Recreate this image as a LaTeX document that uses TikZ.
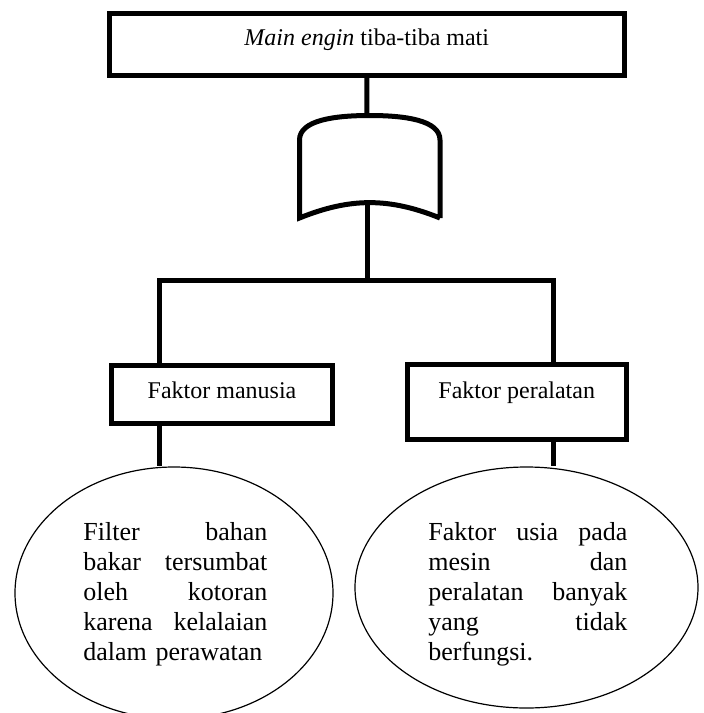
\documentclass[tikz,border=0pt]{standalone}
\usepackage{fontspec}
\setmainfont{Liberation Serif}
\usetikzlibrary{shapes.geometric}

\begin{document}
\begin{tikzpicture}[x=0.5pt, y=-0.5pt,
        kotak/.style={draw, line width=2.5pt, inner sep=0pt, font=\fontsize{12}{15}\selectfont},
        garis/.style={line width=2.5pt},
        lonjong/.style={draw, ellipse, line width=0.6pt, inner sep=0pt},
        isi/.style={inner sep=0pt, anchor=north west, align=left, font=\fontsize{13}{15}\selectfont}]
        \useasboundingbox (0,0) rectangle (704,713);
        \clip (0,0) rectangle (704,713);

        \node[kotak, minimum width=257.25pt, text height=16pt, text depth=15pt] (puncak) at (366.75,44) {\textit{Main engin} tiba-tiba mati};
        \node[kotak, minimum width=110.5pt, text height=16.5pt, text depth=12.75pt] (manusia) at (222,394.25) {Faktor manusia};
        \node[kotak, minimum width=109.25pt, text height=17pt, text depth=20.75pt] (peralatan) at (516.75,401.75) {Faktor peralatan};

        \node[lonjong, minimum width=159pt, minimum height=126pt] (sebab1) at (174,593) {};
        \node[lonjong, minimum width=171.5pt, minimum height=120.5pt] (sebab2) at (526.5,587.5) {};
        \node[isi, text width=92pt] (teks1) at (83,522) {Filter\hfill bahan\\ bakar\hfill tersumbat\\ oleh\hfill kotoran\\ karena\hfill kelalaian\\ dalam perawatan};
        \node[isi, text width=99.5pt] (teks2) at (428,522) {Faktor\hfill usia\hfill pada\\ mesin\hfill dan\\ peralatan\hfill banyak\\ yang\hfill tidak\\ berfungsi.};

        \draw[garis] (440,218) -- (440,140) .. controls (440,120) and (404.5,115.5) .. (369.75,115.5)
            .. controls (335,115.5) and (299.5,120) .. (299.5,140) -- (299.5,218)
            .. controls (350.3,197.5) and (389.2,197.5) .. (440,218);
        \coordinate (masuk) at (367,115.5);
        \coordinate (keluar) at (367,202.5);
        \coordinate (cabang) at (367,280);
        \coordinate (kiri) at (159,280);
        \coordinate (kanan) at (553,280);

        \draw[garis] (puncak.south) -- (masuk);
        \draw[garis] (keluar) -- (cabang);
        \draw[garis] (kiri |- manusia.north) -- (kiri) -- (kanan) -- (kanan |- peralatan.north);
        \draw[garis] (kiri |- manusia.south) -- (kiri |- sebab1.north);
        \draw[garis] (kanan |- peralatan.south) -- (kanan |- sebab2.north);
    \end{tikzpicture}
\end{document}
